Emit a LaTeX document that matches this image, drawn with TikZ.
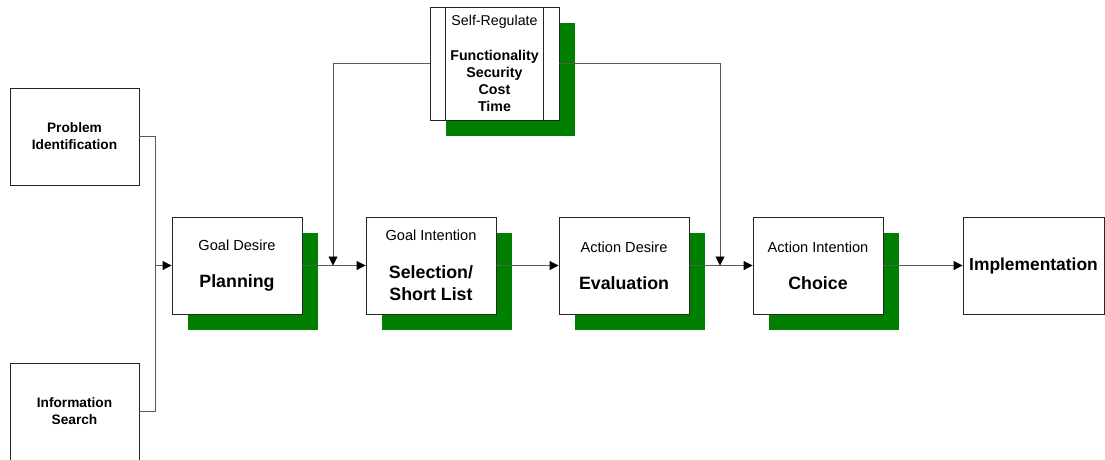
\documentclass[tikz,border=0pt]{standalone}
\usepackage{fontspec}
\setmainfont{Liberation Sans}
\usetikzlibrary{arrows.meta,shadows}
\definecolor{shadowgreen}{RGB}{0,128,0}
\newcommand{\stagename}[1]{{\bfseries\fontsize{17.8}{21}\selectfont #1}}

\begin{document}
\begin{tikzpicture}[x=1pt,y=-1pt,
  box/.style={rectangle, draw=black!85, fill=white, line width=0.9pt, minimum width=130pt, minimum height=97pt, inner sep=0pt, align=center, font=\fontsize{14.6}{17.5}\selectfont},
  shbox/.style={box, drop shadow={shadow xshift=16pt, shadow yshift=-16pt, fill=shadowgreen, opacity=1}},
  conn/.style={draw=black!65, line width=0.9pt},
  arr/.style={conn, -{Triangle[length=9pt,width=9pt,color=black]}}]
\useasboundingbox (0,0) rectangle (1105,459);
\node[box, minimum width=129pt, font=\bfseries\fontsize{13.7}{17}\selectfont] (prob) at (74.5,136.5) {Problem\\Identification};
\node[box, minimum width=129pt, font=\bfseries\fontsize{13.7}{17}\selectfont] (info) at (74.5,411.5) {Information\\Search};
\node[shbox] (plan) at (237,265.5) {Goal Desire\\[19.5pt]\stagename{Planning}};
\node[shbox] (sel) at (431,265.5) {Goal Intention\\[20.5pt]\stagename{Selection/}\\[4.5pt]\stagename{Short List}};
\node[shbox] (eval) at (624,265.5) {Action Desire\\[19.5pt]\stagename{Evaluation}};
\node[shbox] (choice) at (818,265.5) {Action Intention\\[19.5pt]\stagename{Choice}};
\node[box, minimum width=141pt, font=\bfseries\fontsize{17.4}{21}\selectfont] (impl) at (1033.5,265.5) {Implementation};
\node[shbox, minimum width=129pt, minimum height=113pt, font=\fontsize{14.2}{17}\selectfont] (selfreg) at (494.5,63.5)
  {Self-Regulate\\[18pt]\textbf{Functionality}\\\textbf{Security}\\\textbf{Cost}\\\textbf{Time}};
\draw[line width=0.9pt, black!85] ([xshift=16pt]selfreg.north west) -- ([xshift=16pt]selfreg.south west);
\draw[line width=0.9pt, black!85] ([xshift=-16pt]selfreg.north east) -- ([xshift=-16pt]selfreg.south east);

\coordinate (join) at (155,265.5);
\coordinate (fbA) at (333,265.5);
\coordinate (fbB) at (720,265.5);
\draw[conn] (prob.east) -| (join);
\draw[conn] (info.east) -| (join);
\draw[arr] (join) -- (plan.west);
\draw[arr] (plan.east) -- (sel.west);
\draw[arr] (sel.east) -- (eval.west);
\draw[arr] (eval.east) -- (choice.west);
\draw[arr] (choice.east) -- (impl.west);
\draw[arr] (selfreg.west) -| (fbA);
\draw[arr] (selfreg.east) -| (fbB);
\end{tikzpicture}
\end{document}
